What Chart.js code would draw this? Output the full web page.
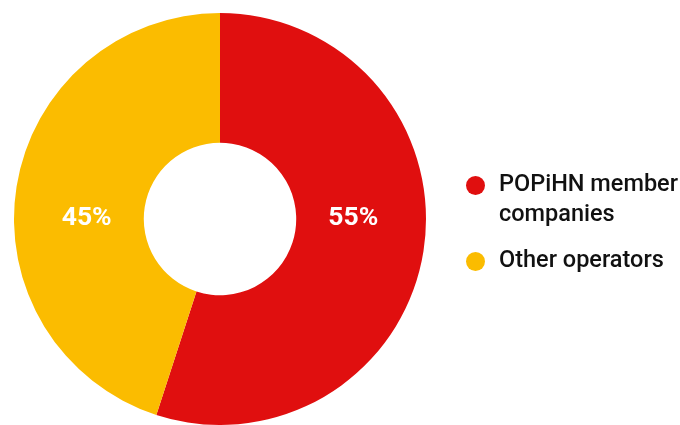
<!DOCTYPE html>
<html>
<head>
<meta charset="utf-8">
<script src="https://cdn.jsdelivr.net/npm/chart.js@4"></script>
<style>
  html, body { margin: 0; padding: 0; background: #fff; }
  #wrap { position: relative; width: 680px; height: 425px; overflow: hidden; }
  #chart { position: absolute; left: 0; top: 0; }
  #legend { position: absolute; left: 466px; top: 0; font-family: Roboto, sans-serif; font-weight: 500; font-size: 23.5px; line-height: 30px; color: #111; }
  .item { position: absolute; left: 0; width: 214px; display: flex; align-items: flex-start; }
  .dot { width: 19px; height: 19px; border-radius: 50%; margin-top: 8px; flex: none; }
  .txt { margin-left: 14px; white-space: nowrap; }
</style>
</head>
<body>
<div id="wrap">
  <canvas id="chart" width="680" height="425"></canvas>
  <div id="legend"></div>
</div>
<script>
const labels = ["POPiHN member companies", "Other operators"];
const legendLines = [["POPiHN member", "companies"], ["Other operators"]];
const shares = [55, 45];
const colors = ["#E00F0F", "#FBBC00"];
const legendTops = [168, 244];

// percentage text drawn across the middle of each ring segment
const sliceLabels = {
  id: "sliceLabels",
  afterDatasetsDraw(chart) {
    const ctx = chart.ctx;
    const meta = chart.getDatasetMeta(0);
    ctx.save();
    ctx.font = "bold 26.5px Roboto, sans-serif";
    ctx.fillStyle = "#fff";
    ctx.textAlign = "center";
    ctx.textBaseline = "middle";
    meta.data.forEach((arc, i) => {
      const r = arc.innerRadius + (arc.outerRadius - arc.innerRadius) * 0.44;
      const side = i === 0 ? 1 : -1;
      ctx.fillText(shares[i] + "%", arc.x + side * r, arc.y - 1);
    });
    ctx.restore();
  }
};

new Chart(document.getElementById("chart"), {
  type: "doughnut",
  data: {
    labels,
    datasets: [{ data: shares, backgroundColor: colors, borderWidth: 0 }]
  },
  options: {
    responsive: false,
    animation: false,
    cutout: "37%",
    layout: { padding: { left: 14, top: 13, right: 254, bottom: 0 } },
    plugins: { legend: { display: false }, tooltip: { enabled: false } }
  },
  plugins: [sliceLabels]
});

const legend = document.getElementById("legend");
legendLines.forEach((lines, i) => {
  const item = document.createElement("div");
  item.className = "item";
  item.style.top = legendTops[i] + "px";
  const dot = document.createElement("span");
  dot.className = "dot";
  dot.style.background = colors[i];
  const txt = document.createElement("span");
  txt.className = "txt";
  txt.innerHTML = lines.join("<br>");
  item.append(dot, txt);
  legend.appendChild(item);
});
</script>
</body>
</html>
